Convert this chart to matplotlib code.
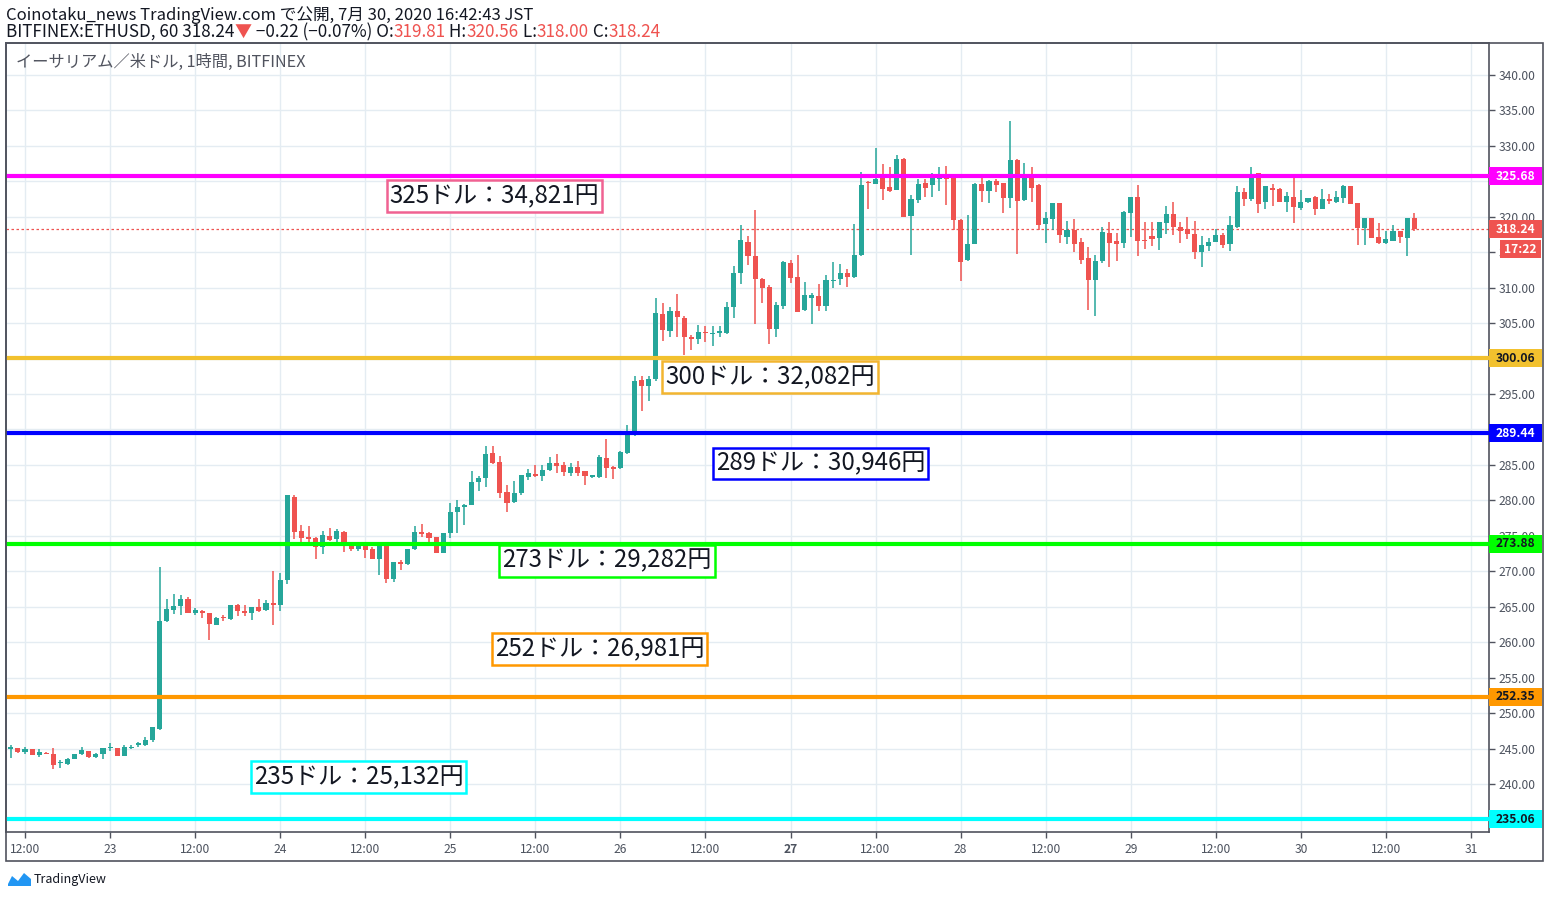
import numpy as np
import pandas as pd
import matplotlib
matplotlib.use("Agg")
import matplotlib.pyplot as plt
import matplotlib.dates as mdates
from matplotlib.patches import Rectangle, Polygon
from matplotlib.transforms import blended_transform_factory

plt.rcParams['font.family'] = ['Noto Sans CJK JP', 'DejaVu Sans']

# ---------------- data (hourly OHLC, BITFINEX:ETHUSD) ----------------
start_time = "2020-07-22 10:00"
opens = [
    244.95, 245.10, 244.55, 244.95, 244.10, 244.45, 244.27, 243.05, 242.86, 243.57,
    244.20, 244.70, 243.85, 244.22, 245.05, 245.07, 244.05, 245.10, 245.60, 245.60,
    246.20, 247.80, 262.95, 264.60, 265.10, 266.10, 264.20, 264.45, 264.17, 262.50,
    263.45, 263.30, 265.30, 264.45, 264.20, 264.95, 264.50, 265.60, 265.20, 268.80,
    280.50, 275.70, 274.85, 274.70, 273.50, 275.00, 274.55, 275.60, 273.90, 273.15,
    274.15, 273.10, 271.70, 273.65, 268.95, 271.30, 271.00, 273.10, 275.50, 275.40,
    274.85, 272.60, 275.35, 278.30, 279.05, 279.30, 282.55, 283.15, 286.70, 285.40,
    281.20, 279.75, 281.00, 283.30, 283.70, 283.50, 284.25, 285.30, 285.05, 283.80,
    284.70, 284.10, 283.35, 283.30, 285.95, 284.75, 284.55, 286.70, 289.60, 297.00,
    296.10, 297.10, 306.30, 303.90, 306.70, 305.70, 303.10, 302.70, 303.75, 303.45,
    303.60, 303.65, 307.20, 312.00, 316.45, 314.40, 311.25, 310.10, 304.10, 307.35,
    313.50, 311.50, 306.90, 308.60, 308.85, 307.45, 310.90, 311.15, 312.10, 311.45,
    314.60, 324.85, 324.65, 325.40, 324.15, 323.80, 328.15, 320.15, 322.30, 324.80,
    324.40, 325.30, 325.45, 325.60, 319.50, 313.90, 316.15, 324.65, 323.60, 325.00,
    324.70, 322.60, 328.05, 322.30, 325.45, 324.45, 318.90, 319.60, 321.85, 317.10,
    318.05, 316.40, 314.10, 311.05, 313.70, 317.65, 316.50, 316.25, 320.50, 322.70,
    316.70, 317.20, 316.95, 319.10, 320.30, 318.60, 318.30, 317.50, 315.00, 315.90,
    316.40, 317.40, 316.10, 318.50, 323.45, 322.45, 326.10, 322.00, 324.10, 323.85,
    322.00, 322.70, 321.20, 322.05, 322.70, 321.10, 322.45, 322.05, 322.65, 324.25,
    321.90, 318.35, 319.85, 317.10, 316.30, 316.55, 317.95, 317.00, 319.81,
]
highs = [
    245.55, 245.15, 245.20, 245.00, 244.95, 244.55, 245.07, 243.40, 243.70, 244.25,
    245.20, 244.75, 244.40, 245.10, 245.80, 245.10, 245.55, 245.60, 246.00, 246.60,
    248.10, 270.60, 266.10, 266.85, 266.70, 266.45, 264.90, 264.60, 264.20, 263.55,
    263.90, 265.30, 265.45, 265.30, 265.00, 266.15, 266.00, 270.10, 269.80, 280.80,
    280.77, 276.55, 276.40, 274.90, 275.70, 276.15, 275.95, 275.70, 274.05, 274.20,
    274.20, 273.40, 274.00, 273.80, 271.30, 271.65, 273.10, 276.35, 276.70, 275.55,
    274.90, 275.40, 279.60, 280.05, 279.50, 284.20, 283.40, 287.70, 287.70, 286.20,
    282.20, 282.75, 283.65, 284.40, 285.00, 284.95, 286.10, 286.55, 285.40, 285.30,
    285.50, 284.20, 283.60, 286.35, 288.60, 284.80, 286.95, 290.70, 297.60, 297.60,
    297.60, 308.55, 307.85, 307.30, 309.15, 306.00, 303.35, 304.70, 304.55, 304.55,
    304.55, 308.00, 313.00, 318.85, 317.20, 321.00, 311.30, 310.40, 307.95, 313.80,
    313.85, 314.55, 310.75, 309.20, 310.45, 311.80, 313.60, 313.35, 312.60, 319.00,
    326.30, 325.00, 329.65, 327.45, 326.95, 328.65, 328.30, 323.00, 325.25, 325.25,
    326.20, 327.00, 327.10, 325.70, 319.70, 320.20, 324.75, 325.40, 325.15, 325.25,
    324.70, 333.45, 328.10, 327.50, 326.95, 324.60, 320.65, 321.90, 321.90, 319.45,
    319.60, 317.00, 315.65, 314.65, 318.55, 319.30, 317.75, 320.80, 322.70, 324.40,
    319.20, 319.20, 319.20, 321.45, 322.00, 319.30, 320.00, 319.45, 317.25, 316.95,
    318.30, 317.65, 320.05, 324.35, 324.10, 327.00, 326.15, 324.25, 324.60, 324.10,
    323.40, 325.40, 323.75, 322.60, 322.95, 323.85, 323.15, 323.55, 324.45, 324.25,
    321.90, 319.85, 319.85, 319.05, 317.95, 318.75, 317.95, 319.85, 320.56,
]
lows = [
    243.75, 244.45, 244.30, 244.10, 243.90, 244.20, 242.15, 242.35, 242.77, 243.55,
    244.15, 243.75, 243.75, 243.50, 244.75, 244.00, 244.00, 244.90, 245.30, 245.35,
    246.00, 247.65, 262.90, 264.00, 263.90, 264.20, 263.90, 263.50, 260.35, 262.50,
    262.95, 263.20, 263.65, 263.65, 263.20, 264.30, 264.40, 262.50, 264.35, 268.20,
    274.55, 273.60, 274.20, 271.80, 272.50, 274.30, 274.20, 272.70, 272.85, 272.90,
    271.90, 271.70, 269.50, 268.40, 268.50, 270.20, 270.95, 273.00, 274.80, 273.70,
    272.60, 272.60, 274.65, 275.35, 276.60, 279.30, 281.35, 281.95, 285.20, 280.40,
    278.40, 279.70, 280.70, 282.85, 283.30, 282.70, 284.20, 283.90, 283.50, 283.50,
    283.50, 282.20, 283.10, 283.20, 283.20, 283.05, 284.45, 286.60, 289.15, 292.55,
    293.95, 296.80, 302.45, 303.10, 303.10, 300.45, 301.15, 302.10, 302.30, 301.70,
    303.00, 303.50, 305.75, 310.50, 313.20, 304.90, 307.85, 302.05, 303.05, 307.00,
    310.65, 306.60, 306.70, 304.80, 306.75, 306.75, 309.90, 310.40, 310.10, 311.40,
    314.50, 321.10, 324.60, 322.40, 323.45, 323.70, 320.00, 314.65, 321.90, 322.70,
    322.70, 323.60, 321.70, 318.10, 310.90, 313.70, 316.10, 322.00, 321.85, 323.40,
    320.45, 321.20, 314.80, 322.20, 322.00, 318.10, 316.35, 318.10, 316.35, 316.10,
    315.00, 313.30, 306.90, 305.95, 313.40, 312.90, 313.70, 315.55, 317.15, 314.45,
    315.50, 315.85, 315.30, 317.60, 317.40, 316.25, 316.90, 314.00, 312.85, 315.15,
    316.40, 315.55, 315.15, 318.40, 321.50, 322.20, 320.50, 321.10, 321.50, 322.00,
    320.70, 319.10, 320.95, 321.90, 320.20, 321.10, 321.80, 321.95, 321.95, 321.80,
    316.00, 316.00, 317.00, 316.10, 316.15, 316.50, 316.35, 314.45, 318.00,
]
closes = [
    245.20, 244.55, 244.98, 244.10, 244.55, 244.20, 242.77, 243.15, 243.57, 244.22,
    244.80, 243.90, 244.27, 245.07, 245.10, 244.03, 245.20, 245.20, 245.65, 246.20,
    248.10, 263.00, 264.75, 265.15, 266.15, 264.20, 264.60, 264.07, 262.52, 263.40,
    263.40, 265.30, 264.35, 264.20, 264.95, 264.35, 265.60, 265.20, 268.80, 280.77,
    275.60, 274.75, 274.60, 273.50, 275.10, 274.40, 275.70, 273.80, 273.10, 274.10,
    273.00, 271.70, 273.80, 268.95, 271.30, 271.00, 273.10, 275.50, 275.25, 274.75,
    272.60, 275.35, 278.35, 279.10, 279.35, 282.60, 283.15, 286.55, 285.30, 281.10,
    279.70, 281.05, 283.65, 283.85, 283.40, 284.30, 285.25, 284.90, 284.00, 284.70,
    283.80, 283.40, 283.55, 286.10, 284.60, 284.50, 286.80, 289.75, 296.90, 296.10,
    297.15, 306.35, 304.00, 306.70, 305.80, 303.00, 302.70, 303.75, 303.60, 303.65,
    303.85, 307.25, 312.10, 316.65, 314.40, 311.25, 309.95, 304.10, 307.55, 313.60,
    311.40, 306.60, 308.90, 308.95, 307.45, 311.00, 311.10, 312.10, 311.55, 314.60,
    324.50, 324.70, 325.35, 323.95, 323.60, 328.15, 320.00, 322.50, 324.65, 324.00,
    325.60, 325.45, 325.25, 319.50, 313.60, 316.20, 324.60, 323.60, 325.00, 324.45,
    322.60, 328.05, 322.20, 325.40, 324.10, 318.80, 319.75, 321.85, 317.40, 318.05,
    316.20, 313.85, 311.05, 313.80, 317.80, 316.25, 316.10, 320.60, 322.70, 316.55,
    316.55, 316.90, 319.20, 320.30, 318.50, 317.95, 317.55, 315.00, 315.95, 316.40,
    317.40, 316.00, 318.75, 323.45, 322.50, 325.40, 321.80, 324.25, 323.80, 322.00,
    322.85, 321.35, 322.10, 322.60, 321.10, 322.45, 322.20, 322.70, 324.25, 321.80,
    318.35, 319.85, 317.00, 316.30, 316.80, 317.95, 317.10, 319.85, 318.24,
]

level_values = [325.68, 300.06, 289.44, 273.88, 252.35, 235.06]
level_colors = ["#ff00ff", "#f2c12e", "#0000ff", "#00ff00", "#ff9800", "#00ffff"]
level_text_colors = ["white", "#131722", "white", "#131722", "#131722", "#131722"]
box_texts = ["325ドル：34,821円", "300ドル：32,082円", "289ドル：30,946円",
             "273ドル：29,282円", "252ドル：26,981円", "235ドル：25,132円"]
box_edge_colors = ["#f06292", "#f2b530", "#0000ff", "#00ff00", "#ff9800", "#00ffff"]
# label anchor (hours from 2020-07-22 00:00, price)
box_hours = [78.2, 117.1, 124.2, 94.1, 93.05, 59.05]
box_prices = [322.88, 297.41, 285.2, 271.51, 259.02, 241.03]

last_price = 318.24
countdown = "17:22"

xtick_hours = list(range(12, 217, 12))
xtick_labels = ["12:00", "23", "12:00", "24", "12:00", "25", "12:00", "26", "12:00",
                "27", "12:00", "28", "12:00", "29", "12:00", "30", "12:00", "31"]
ytick_values = list(range(240, 341, 5))

# ---------------- figure ----------------
W, H = 1550, 898
fig = plt.figure(figsize=(W / 100, H / 100), dpi=100)
fig.patch.set_facecolor("white")

def px_x(x):
    return x / W

def px_y(y):
    return 1 - y / H

ax_left, ax_right, ax_top, ax_bottom = 6, 1489, 43, 832
ax = fig.add_axes([px_x(ax_left), px_y(ax_bottom), (ax_right - ax_left) / W, (ax_bottom - ax_top) / H])

base = mdates.date2num(pd.Timestamp("2020-07-22 00:00"))
def hx(h):
    return base + np.asarray(h) / 24.0

times = pd.date_range(start_time, periods=len(opens), freq="h")
t = mdates.date2num(times)
o = np.array(opens); hi = np.array(highs); lo = np.array(lows); c = np.array(closes)
GREEN, RED = "#26a69a", "#ef5350"
up = c >= o
cols = np.where(up, GREEN, RED)

ax.set_xlim(hx(9.32), hx(218.54))
ax.set_ylim(233.27, 344.47)

# grid
for h in xtick_hours:
    ax.axvline(hx(h), color="#e4ecf2", lw=1, zorder=0)
for yv in ytick_values:
    ax.axhline(yv, color="#e4ecf2", lw=1, zorder=0)

# candles
ax.vlines(t, lo, hi, colors=cols, lw=1.1, zorder=3)
body_bottom = np.minimum(o, c)
body_h = np.maximum(np.abs(c - o), 0.15)
ax.bar(t, body_h, bottom=body_bottom, width=0.72 / 24, color=cols, linewidth=0, zorder=4)

# last price dashed line
ax.axhline(last_price, color=RED, lw=0.9, ls=(0, (2, 2)), zorder=2)

# levels
for v, col in zip(level_values, level_colors):
    ax.axhline(v, color=col, lw=3, zorder=5)

# boxes with text
for txt, ec, bh, bp in zip(box_texts, box_edge_colors, box_hours, box_prices):
    ax.text(hx(bh), bp, txt, fontsize=17.3, color="#131722", ha="center", va="center",
            zorder=7,
            bbox=dict(boxstyle="square,pad=0.12", facecolor="white", edgecolor=ec, linewidth=1.8))

# axes styling
for s in ax.spines.values():
    s.set_color("#50535e")
    s.set_linewidth(1.2)
ax.yaxis.tick_right()
ax.set_yticks(ytick_values)
ax.set_yticklabels([f"{v:.2f}" for v in ytick_values])
ax.tick_params(axis="y", which="both", length=4, width=1, color="#50535e", pad=3,
               labelsize=8.7, labelcolor="#4c525e", left=False, right=True)
# the 325.00 label is completely covered by the 325.68 level tag in the reference
for lbl, v in zip(ax.get_yticklabels(), ytick_values):
    if v == 325:
        lbl.set_visible(False)
ax.set_xticks([hx(h) for h in xtick_hours])
ax.set_xticklabels(xtick_labels)
ax.tick_params(axis="x", length=4, width=1, color="#50535e", pad=4,
               labelsize=8.7, labelcolor="#4c525e")
for lbl, txt in zip(ax.get_xticklabels(), xtick_labels):
    if txt == "27":
        lbl.set_fontweight("bold")

# right price-axis labels
trans = blended_transform_factory(ax.transAxes, ax.transData)
box_w = 53 / (ax_right - ax_left)
box_hgt = 18 / 7.086
def axis_label(y_center, text, fc, tc, x0=0.0, w=box_w):
    ax.add_patch(Rectangle((1.0 + x0, y_center - box_hgt / 2), w, box_hgt, transform=trans,
                           facecolor=fc, edgecolor="none", clip_on=False, zorder=8))
    ax.text(1.0 + x0 + w / 2, y_center, text, transform=trans, ha="center", va="center",
            fontsize=8.7, color=tc, fontweight="bold", clip_on=False, zorder=9)

for v, col, tc in zip(level_values, level_colors, level_text_colors):
    axis_label(v, f"{v:.2f}", col, tc)
axis_label(last_price, f"{last_price:.2f}", RED, "white")
axis_label(last_price - 20 / 7.086, countdown, RED, "white",
           x0=11 / (ax_right - ax_left), w=41 / (ax_right - ax_left))

# outer frame (price panel & time panel)
fig.patches.append(Rectangle((px_x(6), px_y(861)), 1537 / W, 818 / H, transform=fig.transFigure,
                             facecolor="none", edgecolor="#50535e", linewidth=1.2))

# in-chart title
fig.text(px_x(16), px_y(62), "イーサリアム／米ドル, 1時間, BITFINEX", fontsize=11.7,
         color="#50535e", ha="left", va="center")

# header
fig.text(px_x(6), px_y(15), "Coinotaku_news TradingView.com で公開, 7月 30, 2020 16:42:43 JST",
         fontsize=12, color="#131722", ha="left", va="center")
renderer = fig.canvas.get_renderer()
parts = [("BITFINEX:ETHUSD, 60 318.24", "#131722"), ("▼", RED), (" −0.22 (−0.07%) O:", "#131722"),
         ("319.81", RED), (" H:", "#131722"), ("320.56", RED), (" L:", "#131722"),
         ("318.00", RED), (" C:", "#131722"), ("318.24", RED)]
xcur = 6
for s, col in parts:
    tt = fig.text(px_x(xcur), px_y(32), s, fontsize=12.3, color=col, ha="left", va="center")
    bb = tt.get_window_extent(renderer)
    xcur += bb.width

# TradingView logo
pts = np.array([[8, 884], [12, 876], [18, 881], [24, 873], [31, 879], [31, 886], [8, 886]], float)
pts[:, 0] = pts[:, 0] / W
pts[:, 1] = 1 - pts[:, 1] / H
fig.patches.append(Polygon(pts, closed=True, transform=fig.transFigure,
                           facecolor="#2196f3", edgecolor="none"))
fig.text(px_x(34), px_y(880), "TradingView", fontsize=9, color="#131722", ha="left", va="center")

fig.savefig("out.png", dpi=100)
